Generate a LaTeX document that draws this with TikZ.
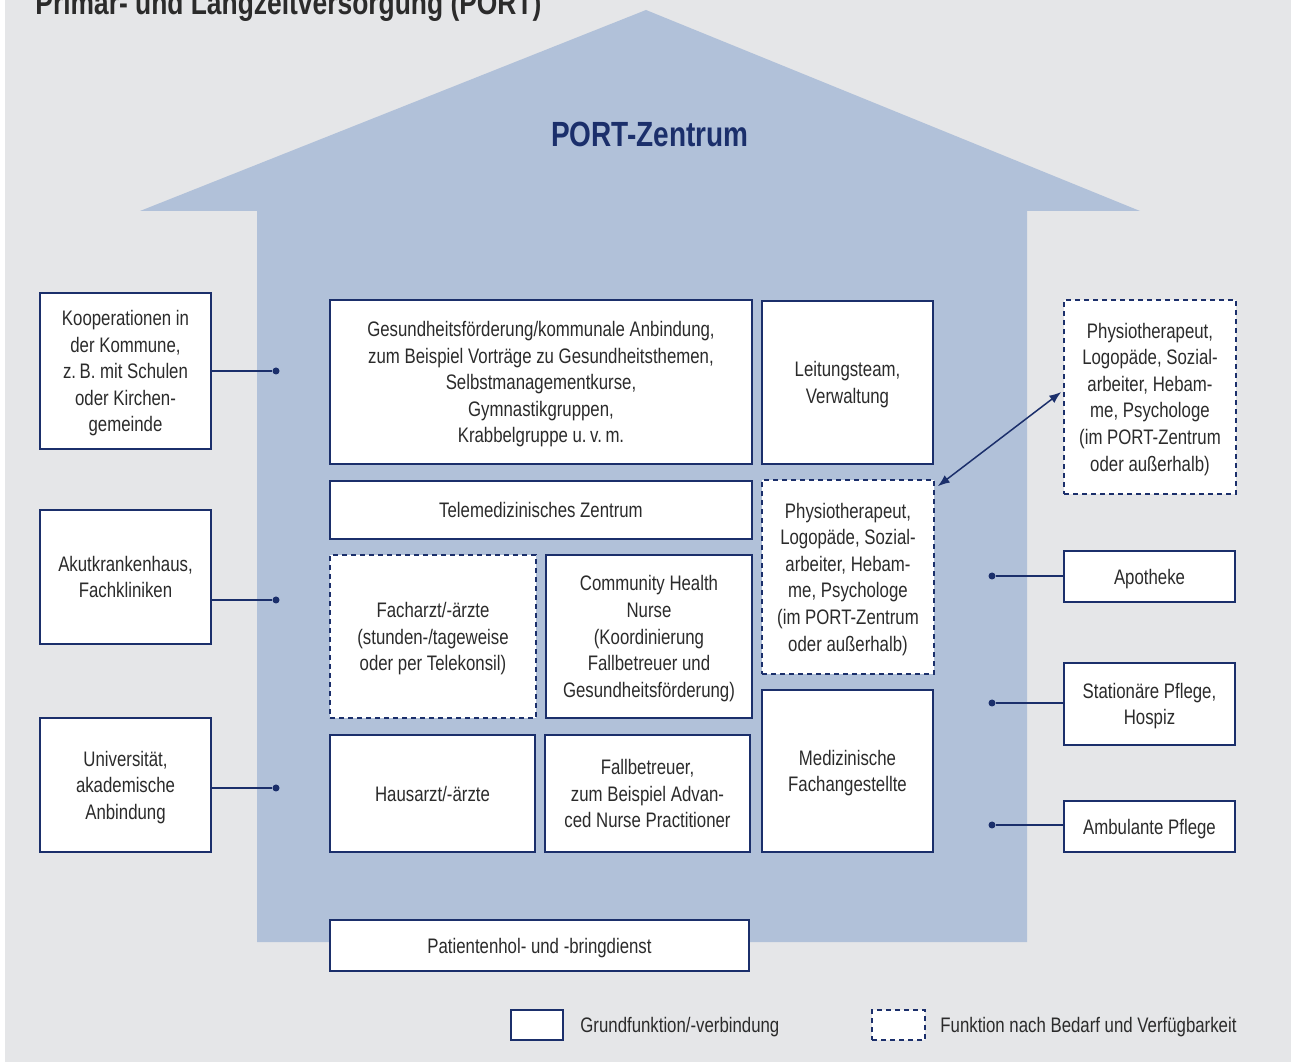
\documentclass[tikz,border=0pt]{standalone}
\usepackage{fontspec}
\setmainfont{Liberation Sans}[FakeStretch=0.8]
\usepackage{tikz}
\usetikzlibrary{shapes,arrows,arrows.meta,positioning,calc}
\definecolor{bggray}{HTML}{E5E6E8}
\definecolor{houseblue}{HTML}{B1C1D9}
\definecolor{navy}{HTML}{1B2F6B}
\definecolor{txtgray}{HTML}{2B2B2B}
\tikzset{
box/.style = {draw=navy, line width=0.75pt, fill=white, rectangle, align=center, inner sep=0pt, text depth=-0.6pt, text=txtgray, font=\fontsize{10.5}{13.3}\selectfont},
optbox/.style = {box, dash pattern=on 2.5pt off 2pt},
link/.style = {draw=navy, line width=0.75pt},
dot/.style = {fill=navy, circle, inner sep=0pt, minimum size=3.5pt},
legendtext/.style = {anchor=west, text=txtgray, font=\fontsize{10.5}{13.3}\selectfont, inner sep=0pt, text depth=-0.6pt},
}

\begin{document}
\begin{tikzpicture}[x=0.5pt, y=-0.5pt, >={Latex[length=6pt,width=4.5pt]}]
        \useasboundingbox (0,0) rectangle (1297,1063);
        \fill[bggray] (5,0) rectangle (1291,1062);
        %house outline
        \fill[houseblue] (257,942) -- (257,211) -- (140,211) -- (646,10) -- (1140,211) -- (1027,211) -- (1027,942) -- cycle;
        \node [anchor=base west, inner sep=0pt, text=txtgray, font=\fontsize{16.5}{18}\selectfont\bfseries] (title) at (35,15) {Primär- und Langzeitversorgung (PORT)};
        \node [text=navy, font=\fontsize{17.5}{19}\selectfont\bfseries] (port) at (650,134) {PORT-Zentrum};

        %left: partners outside
        \node [box, minimum width=85.5pt, minimum height=78pt] (koop) at (125.5,371) {Kooperationen in\\der Kommune,\\z.\,B. mit Schulen\\oder Kirchen-\\gemeinde};
        \node [box, minimum width=85.5pt, minimum height=67pt] (akut) at (125.5,577) {Akutkrankenhaus,\\Fachkliniken};
        \node [box, minimum width=85.5pt, minimum height=67pt] (uni) at (125.5,785) {Universität,\\akademische\\Anbindung};

        %inside the centre
        \node [box, minimum width=211pt, minimum height=82pt] (gesund) at (541,382) {Gesundheitsförderung/kommunale Anbindung,\\zum Beispiel Vorträge zu Gesundheitsthemen,\\Selbstmanagementkurse,\\Gymnastikgruppen,\\Krabbelgruppe u.\,v.\,m.};
        \node [box, minimum width=85.5pt, minimum height=81.5pt] (leitung) at (847.5,382.5) {Leitungsteam,\\Verwaltung};
        \node [box, minimum width=211pt, minimum height=29pt] (telemed) at (541,510) {Telemedizinisches Zentrum};
        \node [optbox, minimum width=86pt, minimum height=97pt] (physin) at (848,577) {Physiotherapeut,\\Logopäde, Sozial-\\arbeiter, Hebam-\\me, Psychologe\\(im PORT-Zentrum\\oder außerhalb)};
        \node [optbox, minimum width=103pt, minimum height=81.5pt] (facharzt) at (433,636.5) {Facharzt/-ärzte\\(stunden-/tageweise\\oder per Telekonsil)};
        \node [box, minimum width=103pt, minimum height=81.5pt] (chn) at (649,636.5) {Community Health\\Nurse\\(Koordinierung\\Fallbetreuer und\\Gesundheitsförderung)};
        \node [box, minimum width=102.5pt, minimum height=58.5pt] (hausarzt) at (432.5,793.5) {Hausarzt/-ärzte};
        \node [box, minimum width=102.5pt, minimum height=58.5pt] (fall) at (647.5,793.5) {Fallbetreuer,\\zum Beispiel Advan-\\ced Nurse Practitioner};
        \node [box, minimum width=85.5pt, minimum height=81pt] (mediz) at (847.5,771) {Medizinische\\Fachangestellte};
        \node [box, minimum width=209.5pt, minimum height=25.5pt] (patient) at (539.5,945.5) {Patientenhol- und -bringdienst};

        %right: partners outside
        \node [optbox, minimum width=86pt, minimum height=97pt] (physout) at (1150,397) {Physiotherapeut,\\Logopäde, Sozial-\\arbeiter, Hebam-\\me, Psychologe\\(im PORT-Zentrum\\oder außerhalb)};
        \node [box, minimum width=85.5pt, minimum height=25.5pt] (apo) at (1149.5,576.5) {Apotheke};
        \node [box, minimum width=85.5pt, minimum height=41pt] (stat) at (1149.5,704) {Stationäre Pflege,\\Hospiz};
        \node [box, minimum width=85.5pt, minimum height=25.5pt] (amb) at (1149.5,826.5) {Ambulante Pflege};

        %connectors
        \node [dot] (kdot) at (276,371) {};
        \node [dot] (adot) at (276,600) {};
        \node [dot] (udot) at (276,788) {};
        \node [dot] (apdot) at (992,576) {};
        \node [dot] (sdot) at (992,703) {};
        \node [dot] (amdot) at (992,825) {};
        \draw [link] (koop.east |- kdot) -- (kdot);
        \draw [link] (akut.east |- adot) -- (adot);
        \draw [link] (uni.east |- udot) -- (udot);
        \draw [link] (apo.west |- apdot) -- (apdot);
        \draw [link] (stat.west |- sdot) -- (sdot);
        \draw [link] (amb.west |- amdot) -- (amdot);
        \draw [link, <->] ([shift={(3,7)}]physin.north east) -- ([shift={(-2,-5)}]physout.west);

        %legend
        \node [box, minimum width=26pt, minimum height=15pt] (lgsolid) at (537,1025) {};
        \node [legendtext] (lgsolidtxt) at (580,1025) {Grundfunktion/-verbindung};
        \node [optbox, minimum width=26.5pt, minimum height=15pt] (lgdash) at (898.5,1025) {};
        \node [legendtext] (lgdashtxt) at (940,1025) {Funktion nach Bedarf und Verfügbarkeit};
\end{tikzpicture}
\end{document}
